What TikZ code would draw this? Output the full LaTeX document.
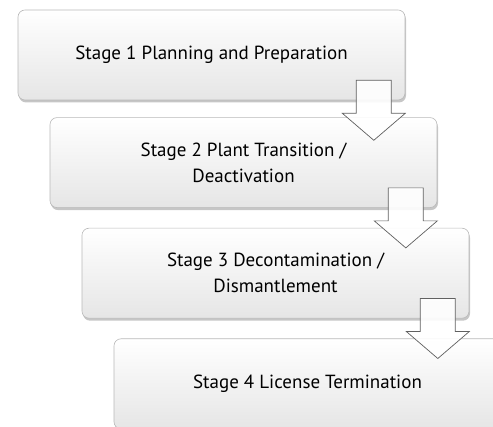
\documentclass[tikz,border=0pt]{standalone}
\usepackage{fontspec}
\setmainfont{PT Sans}
\usetikzlibrary{positioning,shadows,calc}

\tikzset{
  stagebox/.style={draw=gray!55, line width=0.6pt, rounded corners=7pt,
    top color=white, bottom color=gray!20,
    minimum width=387pt, minimum height=90pt, align=center,
    font=\fontsize{19}{26}\selectfont,
    drop shadow={shadow xshift=1pt, shadow yshift=-2.5pt, opacity=0.45}},
  stagearrow/.style={draw=gray!75!black, line width=0.7pt, fill=white, fill opacity=0.9}
}

\begin{document}
\begin{tikzpicture}[x=1pt,y=1pt]
    \useasboundingbox (0,0) rectangle (493,427);

    % the four stages, each one shifted right and down
    \node[stagebox] (s1) at (211.5,372) {Stage 1 Planning and Preparation};
    \node[stagebox, below=17pt of s1, xshift=32pt] (s2) {Stage 2 Plant Transition /\\Deactivation};
    \node[stagebox, below=20pt of s2, xshift=32pt] (s3) {Stage 3 Decontamination /\\Dismantlement};
    \node[stagebox, below=20pt of s3, xshift=32pt] (s4) {Stage 4 License Termination};

    % block arrows from one stage to the next
    \foreach \a/\b in {s1/s2, s2/s3, s3/s4} {
        \coordinate (tip-\b) at ($(\a.south east)+(-31.5,-40)$);
        \draw[stagearrow] ($(\a.south east)+(-49,20)$) -- ++(35,0) -- ++(0,-33)
            -- ++(14,0) -- (tip-\b) -- ($(\a.south east)+(-63,-13)$) -- ++(14,0) -- cycle;
    }

\end{tikzpicture}
\end{document}
